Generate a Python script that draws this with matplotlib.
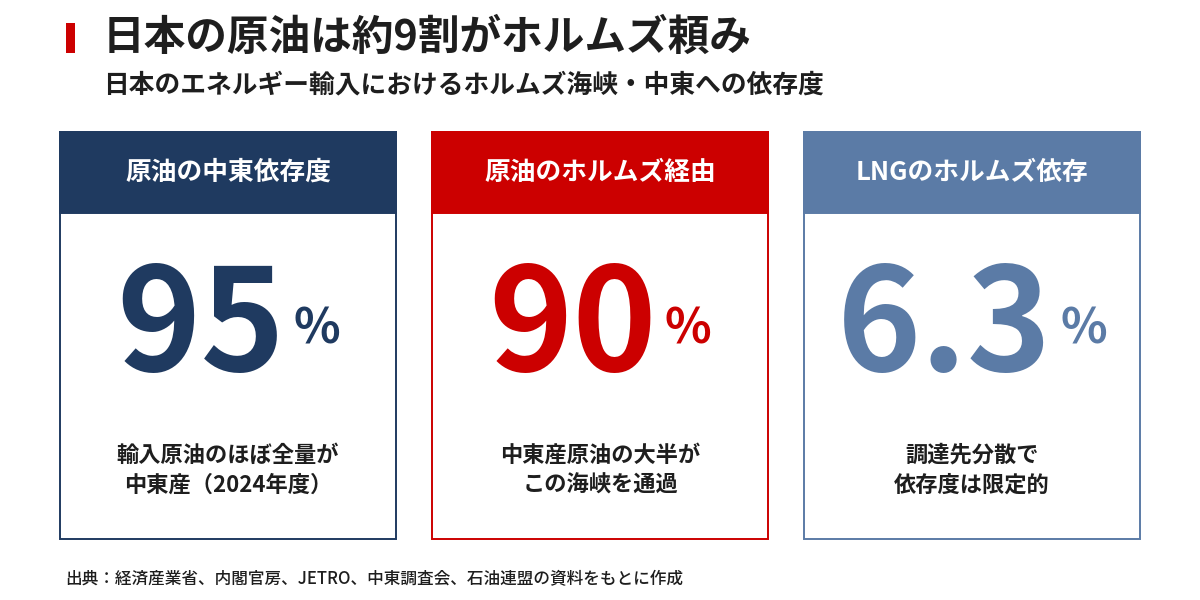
import matplotlib
matplotlib.use("Agg")
import matplotlib.pyplot as plt
from matplotlib.patches import Rectangle

plt.rcParams['font.family'] = ['Noto Sans CJK JP', 'DejaVu Sans']

# ---- data ----
title = "日本の原油は約9割がホルムズ頼み"
subtitle = "日本のエネルギー輸入におけるホルムズ海峡・中東への依存度"
card_titles = ["原油の中東依存度", "原油のホルムズ経由", "LNGのホルムズ依存"]
card_values = [95, 90, 6.3]
card_units = ["%", "%", "%"]
card_notes = [
    ["輸入原油のほぼ全量が", "中東産（2024年度）"],
    ["中東産原油の大半が", "この海峡を通過"],
    ["調達先分散で", "依存度は限定的"],
]
source = "出典：経済産業省、内閣官房、JETRO、中東調査会、石油連盟の資料をもとに作成"

# ---- styles ----
card_colors = ["#1F3A60", "#CC0000", "#5B7BA6"]
text_dark = "#1E1E1E"

W, H = 1200, 600
fig = plt.figure(figsize=(12, 6), dpi=100)
ax = fig.add_axes([0, 0, 1, 1])
ax.set_xlim(0, W)
ax.set_ylim(H, 0)
ax.axis("off")
fig.patch.set_facecolor("white")

# title block
ax.add_patch(Rectangle((66, 23), 9, 30, color="#CC0000", lw=0))
ax.text(103, 38, title, fontsize=30, fontweight="bold", color=text_dark,
        ha="left", va="center")
ax.text(103, 85, subtitle, fontsize=18.5, fontweight="bold", color=text_dark,
        ha="left", va="center")

renderer = fig.canvas.get_renderer()

def fmt(v):
    return f"{v:g}"

card_left = [60, 432, 804]
card_w = 336
top, head_h, bottom = 132, 81, 539
for i, (ct, val, unit, note, col) in enumerate(
        zip(card_titles, card_values, card_units, card_notes, card_colors)):
    x0 = card_left[i]
    cx = x0 + card_w / 2
    # body
    ax.add_patch(Rectangle((x0, top), card_w, bottom - top, facecolor="white",
                           edgecolor=col, lw=1.4))
    # header
    ax.add_patch(Rectangle((x0, top), card_w, head_h, facecolor=col,
                           edgecolor=col, lw=1.4))
    ax.text(cx, top + head_h / 2, ct, fontsize=18.5, fontweight="bold",
            color="white", ha="center", va="center")
    # big number + unit, centered as a group
    tn = ax.text(0, 371, fmt(val), fontsize=103, fontweight="bold", color=col,
                 ha="left", va="baseline")
    tu = ax.text(0, 343, unit, fontsize=35, fontweight="bold", color=col,
                 ha="left", va="baseline")
    wn = tn.get_window_extent(renderer).width
    wu = tu.get_window_extent(renderer).width
    gap = 8
    left = cx - (wn + gap + wu) / 2
    tn.set_x(left)
    tu.set_x(left + wn + gap)
    # notes
    for j, line in enumerate(note):
        ax.text(cx, 455 + j * 30, line, fontsize=16, fontweight="bold",
                color=text_dark, ha="center", va="center")

ax.text(65, 579, source, fontsize=12, fontweight="medium", color=text_dark,
        ha="left", va="center")

fig.savefig("out.png", dpi=100, facecolor="white")
